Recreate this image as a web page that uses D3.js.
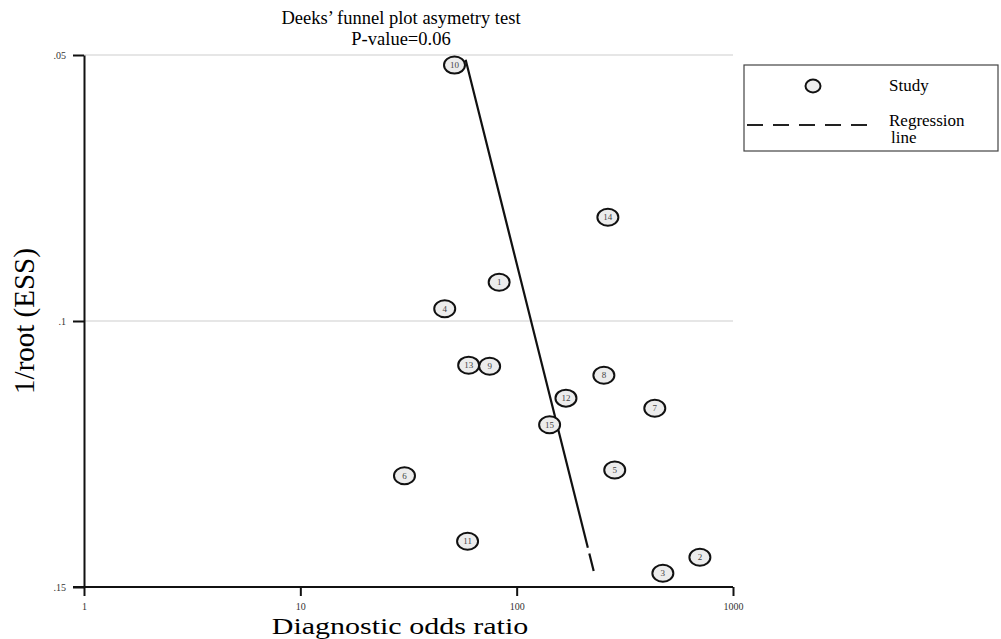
<!DOCTYPE html>
<html>
<head>
<meta charset="utf-8">
<script src="https://cdn.jsdelivr.net/npm/d3@7"></script>
<style>
  body { margin: 0; background: #fff; }
  svg { font-family: "Liberation Serif", "Times New Roman", serif; }
</style>
</head>
<body>
<div class="chart"></div>
<script>
// study ids, diagnostic odds ratio and 1/root(ESS)
const studyIds = [10, 14, 1, 4, 13, 9, 8, 12, 7, 15, 5, 6, 11, 2, 3];
const studyDor = [51.6, 264, 83, 46.5, 60, 75, 253, 169, 435, 142, 284, 30.3, 59.3, 703, 474];
const studyInvRoot = [0.0519, 0.0805, 0.0927, 0.0977, 0.1083, 0.1085, 0.1102, 0.1145, 0.1164, 0.1195, 0.128, 0.1291, 0.1414, 0.1444, 0.1474];

// regression line end points
const regInvRoot = [0.0509, 0.147];
const regDor = [58.1, 227];

const xTicks = [1, 10, 100, 1000];
const yTicks = [0.05, 0.1, 0.15];
const yTickLabels = [".05", ".1", ".15"];

const width = 1001, height = 639;
const margin = {top: 55, right: 268, bottom: 52, left: 84};

const svg = d3.select(".chart")
  .append("svg")
  .attr("width", width)
  .attr("height", height);

const x = d3.scaleLog()
  .domain([1, 1000])
  .range([margin.left, width - margin.right]);

const y = d3.scaleLinear()
  .domain([0.05, 0.15])
  .range([margin.top, height - margin.bottom]);

// gridlines
svg.append("g")
  .selectAll("line")
  .data(yTicks.slice(0, 2))
  .enter()
  .append("line")
  .attr("x1", x(1))
  .attr("x2", x(1000))
  .attr("y1", d => y(d))
  .attr("y2", d => y(d))
  .attr("stroke", "#dedede")
  .attr("stroke-width", 1.5);

// x axis
const xAxis = svg.append("g")
  .attr("transform", "translate(0," + y(0.15) + ")")
  .call(d3.axisBottom(x).tickValues(xTicks).tickFormat(d3.format("d")).tickSize(9).tickSizeOuter(0));
xAxis.select(".domain").attr("stroke", "#111").attr("stroke-width", 2)
  .attr("d", "M" + (x(1) - 11) + ",0H" + x(1000));
xAxis.selectAll(".tick line").attr("stroke", "#111").attr("stroke-width", 2);
xAxis.selectAll(".tick text")
  .attr("font-family", "Liberation Serif")
  .attr("font-size", 10)
  .attr("fill", "#333")
  .attr("dy", "1.1em");

// y axis
const yAxis = svg.append("g")
  .attr("transform", "translate(" + x(1) + ",0)")
  .call(d3.axisLeft(y).tickValues(yTicks).tickFormat((d, i) => yTickLabels[i]).tickSize(11).tickSizeOuter(0));
yAxis.select(".domain").attr("stroke", "#111").attr("stroke-width", 2);
yAxis.selectAll(".tick line").attr("stroke", "#111").attr("stroke-width", 2);
yAxis.selectAll(".tick text")
  .attr("font-family", "Liberation Serif")
  .attr("font-size", 10)
  .attr("fill", "#333")
  .attr("x", -18);

// regression line
const regData = regInvRoot.map((v, i) => [regDor[i], v]);
svg.append("path")
  .datum(regData)
  .attr("d", d3.line().x(d => x(d[0])).y(d => y(d[1])))
  .attr("fill", "none")
  .attr("stroke", "#111")
  .attr("stroke-width", 2.2)
  .attr("stroke-dasharray", "503,6,20,1000");

// study markers
const studies = studyIds.map((id, i) => ({id: id, dor: studyDor[i], v: studyInvRoot[i]}));
const pts = svg.append("g")
  .selectAll("g")
  .data(studies)
  .enter()
  .append("g")
  .attr("transform", d => "translate(" + x(d.dor) + "," + y(d.v) + ")");
pts.append("ellipse")
  .attr("rx", 10.5)
  .attr("ry", 8.5)
  .attr("fill", "#ececec")
  .attr("stroke", "#111")
  .attr("stroke-width", 2);
pts.append("text")
  .attr("text-anchor", "middle")
  .attr("dy", "0.35em")
  .attr("font-size", 9)
  .attr("fill", "#444")
  .text(d => d.id);

// titles
svg.append("text")
  .attr("x", 401).attr("y", 24)
  .attr("text-anchor", "middle")
  .attr("font-size", 18.5)
  .text("Deeks\u2019 funnel plot asymetry test");
svg.append("text")
  .attr("x", 401).attr("y", 45)
  .attr("text-anchor", "middle")
  .attr("font-size", 18.5)
  .text("P-value=0.06");

// picture is a bit stretched sideways, so the axis title is too
svg.append("text")
  .attr("transform", "translate(400,634) scale(1.25,1)")
  .attr("text-anchor", "middle")
  .attr("font-size", 24)
  .text("Diagnostic odds ratio");

svg.append("text")
  .attr("transform", "translate(34," + y(0.1) + ") rotate(-90)")
  .attr("text-anchor", "middle")
  .attr("font-size", 29)
  .text("1/root (ESS)");

// legend
const legend = svg.append("g");
legend.append("rect")
  .attr("x", 744).attr("y", 65)
  .attr("width", 254).attr("height", 86)
  .attr("fill", "#fff")
  .attr("stroke", "#444")
  .attr("stroke-width", 1.2);
legend.append("ellipse")
  .attr("cx", 813).attr("cy", 86)
  .attr("rx", 7.5).attr("ry", 6.5)
  .attr("fill", "#ececec")
  .attr("stroke", "#111")
  .attr("stroke-width", 2);
legend.append("text")
  .attr("x", 889).attr("y", 91)
  .attr("font-size", 17)
  .text("Study");
legend.append("line")
  .attr("x1", 747).attr("x2", 868)
  .attr("y1", 125).attr("y2", 125)
  .attr("stroke", "#222")
  .attr("stroke-width", 2)
  .attr("stroke-dasharray", "16,10");
legend.append("text")
  .attr("x", 889).attr("y", 126)
  .attr("font-size", 17)
  .text("Regression");
legend.append("text")
  .attr("x", 891).attr("y", 143)
  .attr("font-size", 17)
  .text("line");
</script>
</body>
</html>
